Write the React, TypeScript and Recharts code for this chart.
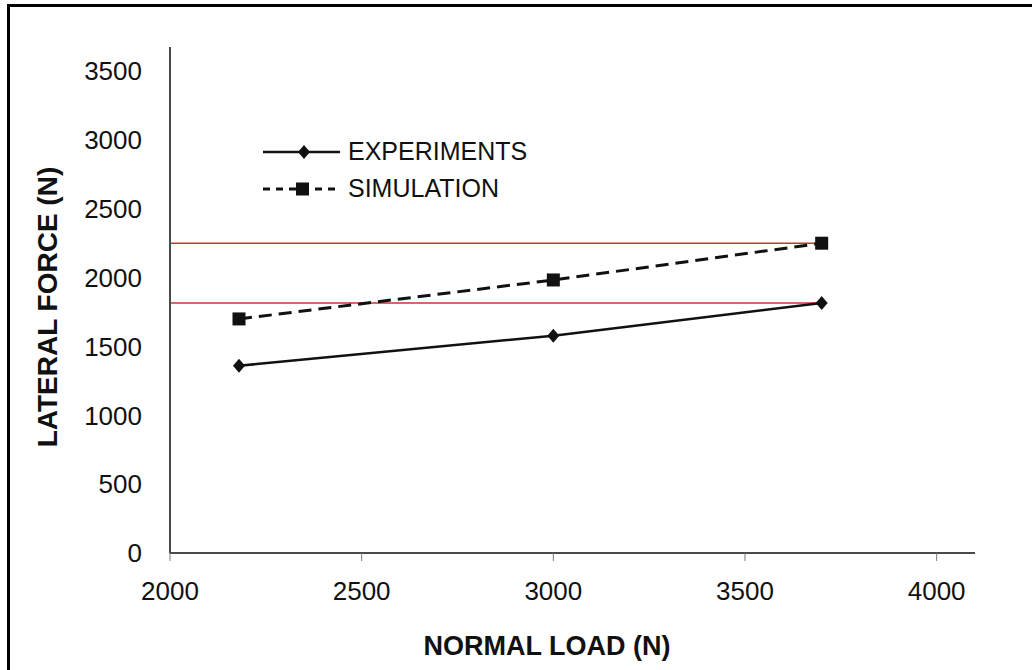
import React from "react";
import {
  LineChart,
  Line,
  XAxis,
  YAxis,
  ReferenceLine,
  Legend,
} from "recharts";

// values
const loads = [2180, 3000, 3700];
const experiments = [1360, 1578, 1815];
const simulation = [1700, 1983, 2250];
const refLevels = [2250, 1815];
const xTicks = [2000, 2500, 3000, 3500, 4000];
const yTicks = [0, 500, 1000, 1500, 2000, 2500, 3000, 3500];

const data = loads.map((load, i) => ({
  load,
  experiments: experiments[i],
  simulation: simulation[i],
}));

const FONT = '"Liberation Sans", Arial, sans-serif';
const AXIS = "#4a4a4a";

const Diamond = (props: any) => {
  const { cx, cy } = props;
  if (cx == null || cy == null) return null;
  return (
    <polygon
      points={`${cx},${cy - 7} ${cx + 6},${cy} ${cx},${cy + 7} ${cx - 6},${cy}`}
      fill="#111"
    />
  );
};

const Square = (props: any) => {
  const { cx, cy } = props;
  if (cx == null || cy == null) return null;
  return <rect x={cx - 6.5} y={cy - 6.5} width={13} height={13} fill="#111" />;
};

const legendItems = [
  { label: "EXPERIMENTS", dash: undefined, marker: "diamond" },
  { label: "SIMULATION", dash: "7 6", marker: "square" },
];

const renderLegend = () => (
  <div style={{ fontFamily: FONT, fontSize: 25, color: "#111" }}>
    {legendItems.map((item) => (
      <div
        key={item.label}
        style={{ display: "flex", alignItems: "center", height: 37 }}
      >
        <svg width={85} height={20}>
          <line
            x1={0}
            y1={10}
            x2={77}
            y2={10}
            stroke="#111"
            strokeWidth={item.dash ? 3 : 2.5}
            strokeDasharray={item.dash}
          />
          {item.marker === "diamond" ? (
            <polygon points="41,3 47,10 41,17 35,10" fill="#111" />
          ) : (
            <rect x={33} y={3.5} width={13} height={13} fill="#111" />
          )}
        </svg>
        <span style={{ lineHeight: 1 }}>{item.label}</span>
      </div>
    ))}
  </div>
);

export default function App() {
  return (
    <div
      style={{
        position: "absolute",
        left: 0,
        top: 0,
        width: 1032,
        height: 670,
        overflow: "hidden",
        background: "#fff",
      }}
    >
      {/* frame of the scanned figure: only left and top edges are visible */}
      <div
        style={{
          position: "absolute",
          left: 7,
          top: 4,
          width: 3,
          height: 666,
          background: "#000",
        }}
      />
      <div
        style={{
          position: "absolute",
          left: 7,
          top: 4,
          width: 1025,
          height: 3,
          background: "#000",
        }}
      />
      <LineChart
        width={1032}
        height={670}
        data={data}
        margin={{ top: 47, right: 57, bottom: 0, left: 60 }}
      >
        <XAxis
          type="number"
          dataKey="load"
          domain={[2000, 4100]}
          ticks={xTicks}
          allowDataOverflow
          height={117}
          stroke={AXIS}
          strokeWidth={2}
          tickSize={8}
          tickMargin={21}
          tickLine={{ stroke: "#777", strokeWidth: 1 }}
          tick={{ fill: "#111", fontSize: 26, fontFamily: FONT }}
          label={{
            content: () => (
              <text
                x={547}
                y={655}
                textAnchor="middle"
                fontFamily={FONT}
                fontWeight="bold"
                fontSize={27}
                fill="#111"
              >
                NORMAL LOAD (N)
              </text>
            ),
          }}
        />
        <YAxis
          type="number"
          domain={[0, 3675]}
          ticks={yTicks}
          allowDataOverflow
          width={110}
          stroke={AXIS}
          strokeWidth={2}
          tickLine={false}
          tickSize={0}
          tickMargin={28}
          tick={{ fill: "#111", fontSize: 26, fontFamily: FONT }}
          label={{
            content: () => (
              <text
                x={47}
                y={307}
                transform="rotate(-90 47 307)"
                textAnchor="middle"
                dominantBaseline="central"
                fontFamily={FONT}
                fontWeight="bold"
                fontSize={28}
                fill="#111"
              >
                LATERAL FORCE (N)
              </text>
            ),
          }}
        />
        {refLevels.map((level) => (
          <ReferenceLine
            key={level}
            segment={[
              { x: 2000, y: level },
              { x: loads[loads.length - 1], y: level },
            ]}
            stroke="#cc3333"
            strokeWidth={1.5}
          />
        ))}
        <Line
          type="linear"
          dataKey="experiments"
          name="EXPERIMENTS"
          stroke="#111"
          strokeWidth={2.5}
          dot={<Diamond />}
          activeDot={false}
          isAnimationActive={false}
        />
        <Line
          type="linear"
          dataKey="simulation"
          name="SIMULATION"
          stroke="#111"
          strokeWidth={3}
          strokeDasharray="13 7"
          dot={<Square />}
          activeDot={false}
          isAnimationActive={false}
        />
        <Legend
          layout="vertical"
          align="center"
          verticalAlign="middle"
          wrapperStyle={{ top: 133, left: 263, width: 320 }}
          content={renderLegend}
        />
      </LineChart>
    </div>
  );
}
